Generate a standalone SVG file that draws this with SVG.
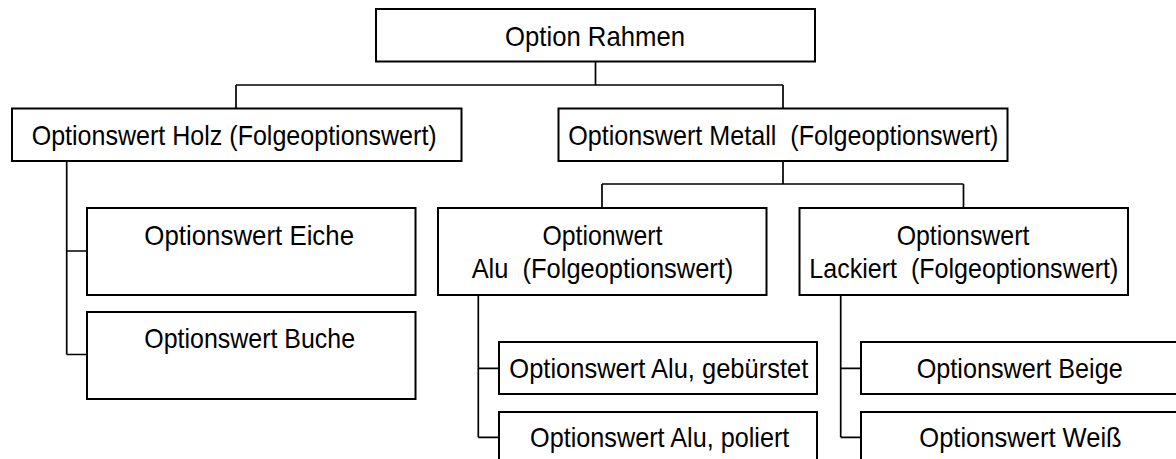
<svg xmlns="http://www.w3.org/2000/svg" width="1176" height="459" viewBox="0 0 1176 459">
  <style>
    .box { fill: #ffffff; stroke: #000000; stroke-width: 2; }
    .conn { fill: none; stroke: #000000; stroke-width: 1.7; }
    text { font-family: "Liberation Sans", Arial, sans-serif; font-size: 28px; fill: #000000; text-anchor: middle; white-space: pre; }
  </style>
  <rect width="1176" height="459" fill="#ffffff"/>

  <!-- connectors of the tree -->
  <g id="connectors">
    <path class="conn" d="M595.5,61.5 V85 M236,85 H783 M236,85 V108.5 M783,85 V108.5"/>
    <path class="conn" d="M783,161 V184 M602,184 H963.5 M602,184 V208 M963.5,184 V208"/>
    <path class="conn" d="M66.7,161 V354.5 M66.7,251 H87 M66.7,354.5 H87"/>
    <path class="conn" d="M478.3,295 V437.3 M478.3,368.3 H499 M478.3,437.3 H499"/>
    <path class="conn" d="M840.7,295 V437.3 M840.7,368.3 H861 M840.7,437.3 H861"/>
  </g>

  <g id="option-rahmen">
    <rect class="box" x="376" y="9" width="439" height="52.5"/>
    <text x="595" y="46" textLength="180" lengthAdjust="spacingAndGlyphs">Option Rahmen</text>
  </g>

  <g id="holz">
    <rect class="box" x="12" y="108.5" width="449.5" height="52.5"/>
    <text x="234.2" y="145" textLength="405" lengthAdjust="spacingAndGlyphs">Optionswert Holz (Folgeoptionswert)</text>
  </g>

  <g id="metall">
    <rect class="box" x="558.5" y="108.5" width="449" height="52.5"/>
    <text x="783.3" y="145" textLength="430" lengthAdjust="spacingAndGlyphs">Optionswert Metall  (Folgeoptionswert)</text>
  </g>

  <g id="eiche">
    <rect class="box" x="87" y="208" width="328.5" height="87"/>
    <text x="249.2" y="245" textLength="209.7" lengthAdjust="spacingAndGlyphs">Optionswert Eiche</text>
  </g>

  <g id="buche">
    <rect class="box" x="87" y="312" width="328.5" height="87"/>
    <text x="249.7" y="348.3" textLength="210.7" lengthAdjust="spacingAndGlyphs">Optionswert Buche</text>
  </g>

  <g id="alu">
    <rect class="box" x="438" y="208" width="328.5" height="87"/>
    <text x="602.5" y="245" textLength="120" lengthAdjust="spacingAndGlyphs">Optionwert</text>
    <text x="602.5" y="278.3" textLength="261.7" lengthAdjust="spacingAndGlyphs">Alu  (Folgeoptionswert)</text>
  </g>

  <g id="lackiert">
    <rect class="box" x="799.5" y="208" width="328.5" height="87"/>
    <text x="963" y="245" textLength="132.7" lengthAdjust="spacingAndGlyphs">Optionswert</text>
    <text x="963.8" y="278.3" textLength="309" lengthAdjust="spacingAndGlyphs">Lackiert  (Folgeoptionswert)</text>
  </g>

  <g id="alu-gebuerstet">
    <rect class="box" x="499" y="342" width="318" height="52"/>
    <text x="658.8" y="378.3" textLength="299" lengthAdjust="spacingAndGlyphs">Optionswert Alu, gebürstet</text>
  </g>

  <g id="alu-poliert">
    <rect class="box" x="499" y="412" width="318" height="60"/>
    <text x="659.7" y="446.7" textLength="259.3" lengthAdjust="spacingAndGlyphs">Optionswert Alu, poliert</text>
  </g>

  <g id="beige">
    <rect class="box" x="861" y="342" width="318" height="52"/>
    <text x="1019.7" y="378.3" textLength="206" lengthAdjust="spacingAndGlyphs">Optionswert Beige</text>
  </g>

  <g id="weiss">
    <rect class="box" x="861" y="412" width="318" height="60"/>
    <text x="1020.5" y="446.7" textLength="202.4" lengthAdjust="spacingAndGlyphs">Optionswert Weiß</text>
  </g>
</svg>
